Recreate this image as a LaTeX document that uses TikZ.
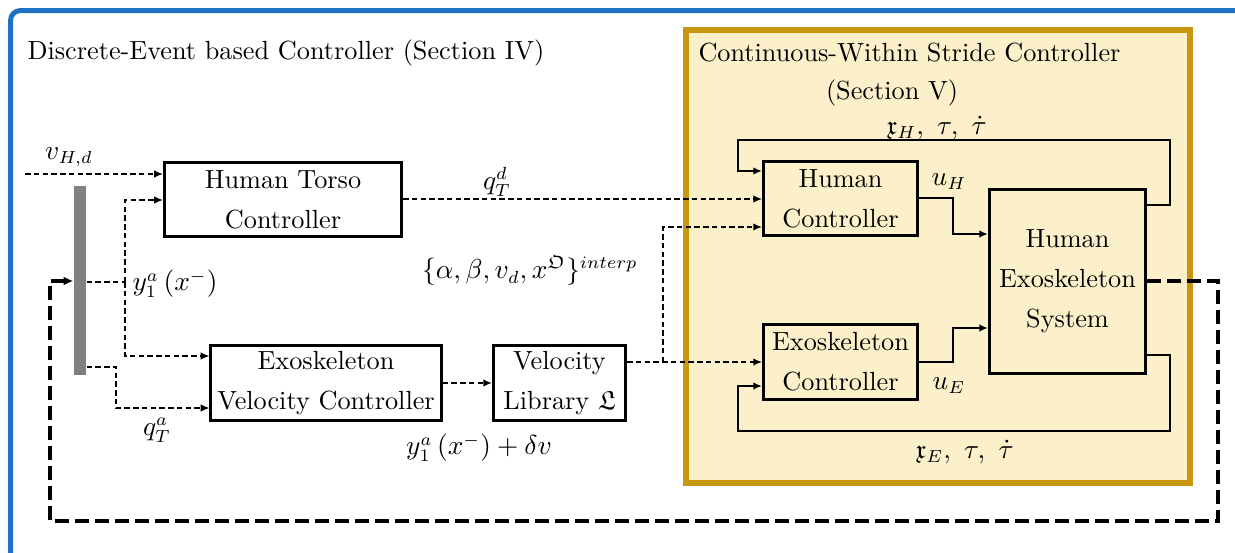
\documentclass[tikz,border=0pt]{standalone}
\usepackage{amssymb}
\usetikzlibrary{arrows.meta}
\definecolor{frameblue}{HTML}{1E72C4}
\definecolor{goldb}{HTML}{C8960F}
\definecolor{goldf}{HTML}{FCF0CA}
\definecolor{bargray}{HTML}{808080}
\begin{document}
\begin{tikzpicture}[x=0.4pt,y=-0.4pt,
  font=\fontsize{10.5}{16}\selectfont,
  blk/.style={draw, line width=1.2pt, align=center, inner sep=0pt},
  dline/.style={line width=0.6pt, dash pattern=on 2.2pt off 1.3pt, -{Latex[length=3.5pt,width=3pt]}},
  dnoarr/.style={line width=0.6pt, dash pattern=on 2.2pt off 1.3pt},
  sline/.style={line width=0.7pt, -{Latex[length=3.5pt,width=3pt]}},
  thick dash/.style={line width=1.6pt, dash pattern=on 5.6pt off 2.4pt, -{Latex[length=4pt,width=3.6pt]}},
  lbl/.style={inner sep=0pt}]
\useasboundingbox (0,0) rectangle (1235,553);
\begin{scope}
\clip (0,0) rectangle (1235,553);
\draw[frameblue, line width=2pt, rounded corners=4pt] (10.5,900) -- (10.5,10.5) -- (1900,10.5);
\end{scope}
% continuous controller region
\draw[goldb, fill=goldf, line width=2.4pt] (686,30) rectangle (1190,483);
% titles
\node[lbl, anchor=base west] (t1) at (27,60) {Discrete-Event based Controller (Section IV)};
\node[lbl, anchor=base west] (t2) at (698,62) {Continuous-Within Stride Controller};
\node[lbl, anchor=base] (t3) at (892,100) {(Section V)};
% blocks
\node[blk, minimum width=94.8pt, minimum height=29.6pt] (torso) at (283,199.5) {Human Torso\\Controller};
\node[blk, minimum width=92pt, minimum height=30pt] (evc) at (326,383) {Exoskeleton\\Velocity Controller};
\node[blk, minimum width=52.8pt, minimum height=30pt] (vlib) at (559.5,383) {Velocity\\Library $\mathfrak{L}$};
\node[blk, minimum width=61.6pt, minimum height=29.6pt] (hc) at (840.5,198.5) {Human\\Controller};
\node[blk, minimum width=61.6pt, minimum height=30pt] (ec) at (840.5,361.5) {Exoskeleton\\Controller};
\node[blk, minimum width=62.4pt, minimum height=73.6pt] (sys) at (1067.5,281.5) {Human\\Exoskeleton\\System};
\node[fill=bargray, inner sep=0pt, minimum width=4.8pt, minimum height=75.6pt] (bar) at (80,280.5) {};
% coordinates
\coordinate (vin) at (25,174);
\coordinate (j1) at (125,282);
\coordinate (j2) at (663,362);
% discrete-event connectors
\draw[dline] (vin) -- (torso.west |- vin);
\draw[dnoarr] (bar.east |- j1) -- (j1);
\draw[dline] (j1) |- (torso.west |- 0,200);
\draw[dline] (j1) |- (evc.west |- 0,356);
\draw[dline] (bar.east |- 0,367) -| (116,408) -- (evc.west |- 0,408);
\draw[dline] (torso.east |- 0,199) -- (hc.west |- 0,199);
\draw[dline] (evc.east |- 0,383) -- (vlib.west |- 0,383);
\draw[dline] (vlib.east |- j2) -- (ec.west |- j2);
\draw[dline] (j2) |- (hc.west |- 0,227);
% continuous connectors
\draw[sline] (hc.east |- 0,198) -| (953,234) -- (sys.west |- 0,234);
\draw[sline] (ec.east |- 0,362) -| (953,328) -- (sys.west |- 0,328);
\draw[sline] (sys.east |- 0,205) -| (1170,140) -| (738,171) -- (hc.west |- 0,171);
\draw[sline] (sys.east |- 0,355) -| (1170,431) -| (738,386) -- (ec.west |- 0,386);
% big feedback
\draw[thick dash] (sys.east |- 0,281) -| (1218,521) -| (50,281) -- (bar.west |- 0,281);
% labels
\node[lbl] (l1) at (69,157) {$v_{H,d}$};
\node[lbl] (l2) at (175,284) {$y_1^a\left(x^-\right)$};
\node[lbl] (l3) at (157,430) {$q_T^a$};
\node[lbl] (l4) at (479,448) {$y_1^a\left(x^-\right)+\delta v$};
\node[lbl] (l5) at (497,182) {$q_T^d$};
\node[lbl] (l6) at (530,271) {$\{\alpha,\beta,v_d,x^{\mathfrak{O}}\}^{interp}$};
\node[lbl] (l7) at (937,128) {$\mathfrak{x}_H,\ \tau,\ \dot{\tau}$};
\node[lbl] (l8) at (949,182) {$u_H$};
\node[lbl] (l9) at (949,386) {$u_E$};
\node[lbl] (l10) at (965,452) {$\mathfrak{x}_E,\ \tau,\ \dot{\tau}$};
\end{tikzpicture}
\end{document}
